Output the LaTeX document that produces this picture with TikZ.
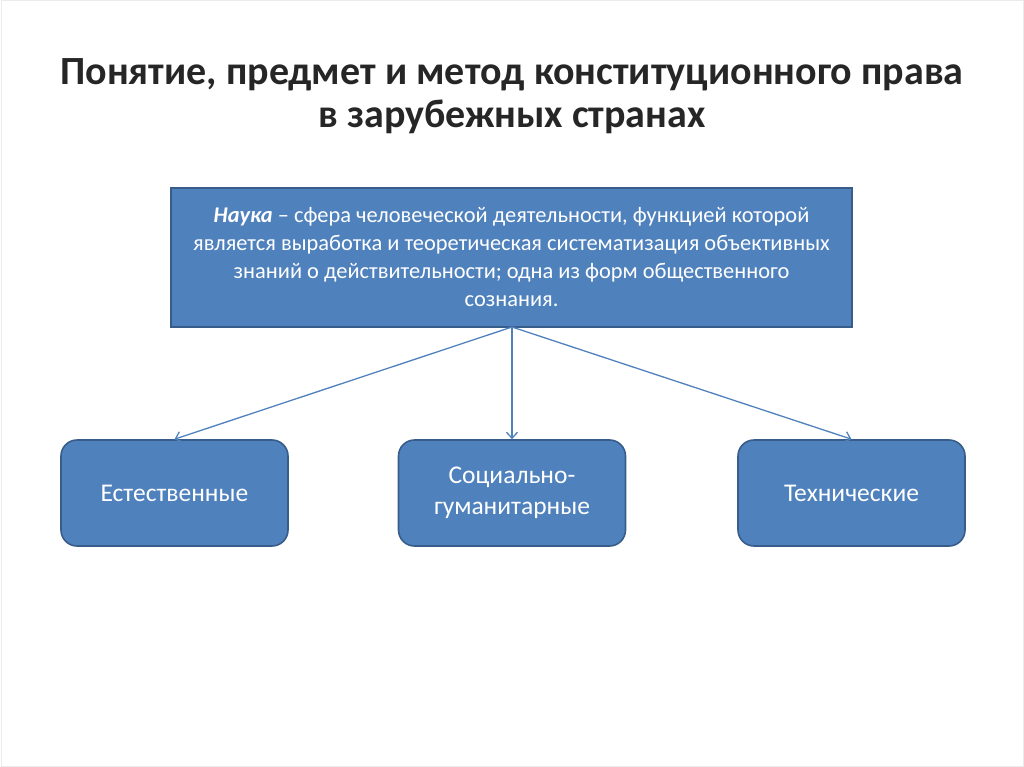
\documentclass[tikz,border=0pt]{standalone}
\usepackage{fontspec}
\setmainfont{Carlito}
\usetikzlibrary{arrows.meta}
\definecolor{boxfill}{HTML}{4F81BD}
\definecolor{boxline}{HTML}{385D8A}
\tikzset{
  topbox/.style={draw=boxline, line width=1.6pt, fill=boxfill, text=white, align=center, minimum width=681pt, minimum height=139pt, inner sep=0pt, font=\fontsize{22.4pt}{28pt}\selectfont},
  leafbox/.style={draw=boxline, line width=1.6pt, fill=boxfill, text=white, align=center, minimum width=227pt, minimum height=106pt, rounded corners=16pt, inner sep=0pt, font=\fontsize{25.5pt}{31pt}\selectfont},
  conn/.style={draw=boxfill, line width=1.3pt, -{Straight Barb[length=6pt,width=11pt]}},
  titletext/.style={font=\bfseries\fontsize{40pt}{43pt}\selectfont, align=center, text=black!85}
}
\begin{document}
\begin{tikzpicture}[x=1pt,y=-1pt]
\useasboundingbox (0,0) rectangle (1024,767);
\draw[black!8, line width=1pt] (1,1) rectangle (1023,766);
\node[titletext] (title) at (512,96) {Понятие, предмет и метод конституционного права\\в зарубежных странах};
\node[topbox] (nauka) at (511.5,257.5) {\textbf{\textit{Наука}} – сфера человеческой деятельности, функцией которой\\является выработка и теоретическая систематизация объективных\\знаний о действительности; одна из форм общественного\\сознания.};
\node[leafbox] (est) at (174.5,493) {Естественные};
\node[leafbox] (soc) at (512,493) {Социально-\\гуманитарные};
\node[leafbox] (tech) at (851.5,493) {Технические};
\coordinate (src) at (512,327);
\draw[conn] (src) -- (est.north);
\draw[conn] (src) -- (soc.north);
\draw[conn] (src) -- (tech.north);
\end{tikzpicture}
\end{document}
